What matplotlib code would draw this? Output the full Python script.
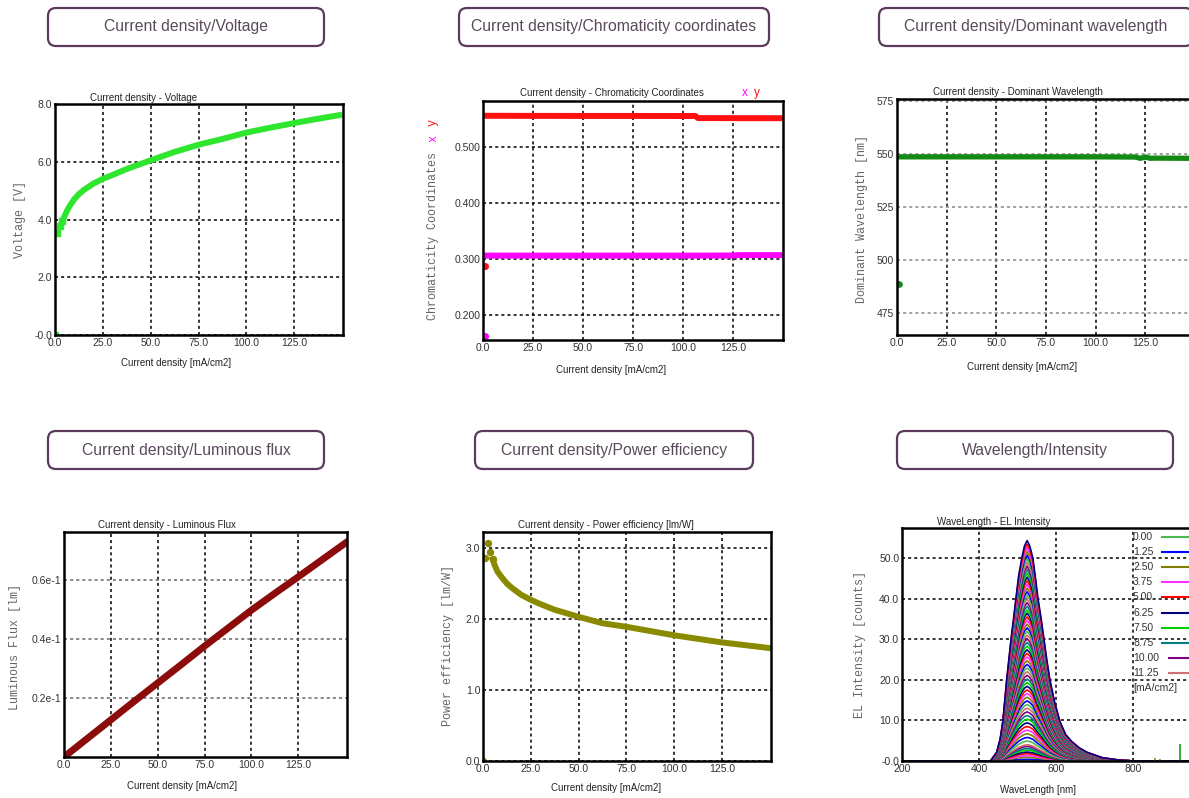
# importing library
import matplotlib
matplotlib.use('Agg')
import matplotlib.pyplot as plt
from matplotlib.patches import FancyBboxPatch
from matplotlib.transforms import IdentityTransform

# picture size in pixels
W, H = 1189, 798

# current density - voltage
volt_j = [0.0, 1.25, 2.5, 3.75, 5.0, 6.25, 7.5, 10.0, 12.5, 15.0, 17.5,
          20.0, 25.0, 30.0, 37.5, 43.75, 50.0, 62.5, 75.0, 87.5, 100.0,
          112.5, 125.0, 137.5, 150.0]
volt_v = [0.0, 3.52, 3.77, 3.94, 4.12, 4.30, 4.45, 4.70, 4.88, 5.02, 5.13,
          5.24, 5.41, 5.54, 5.75, 5.90, 6.05, 6.34, 6.59, 6.79, 7.01,
          7.18, 7.34, 7.49, 7.63]

# current density - chromaticity coordinates
cie_j = [0.75, 1.25, 25.0, 50.0, 75.0, 100.0, 106.25, 107.5, 125.0, 127.5, 150.0]
cie_x = [0.1625, 0.3058, 0.3058, 0.3058, 0.3058, 0.3058, 0.3058, 0.3058,
         0.3060, 0.3066, 0.3066]
cie_y = [0.287, 0.5556, 0.5554, 0.5553, 0.5553, 0.5552, 0.5552, 0.5515,
         0.5514, 0.5513, 0.5513]

# current density - dominant wavelength
dom_j = [1.0, 1.25, 5.0, 25.0, 50.0, 75.0, 100.0, 120.0, 122.5, 125.0,
         127.5, 130.0, 150.0]
dom_wl = [488.5, 548.7, 548.7, 548.7, 548.7, 548.7, 548.7, 548.6, 548.0,
          548.6, 548.0, 548.1, 548.0]

# current density - luminous flux
lum_j = [0.0, 12.5, 25.0, 37.5, 50.0, 62.5, 75.0, 87.5, 100.0, 112.5,
         125.0, 137.5, 150.0]
lum_f = [0.0, 0.0063, 0.0126, 0.0189, 0.0251, 0.0313, 0.0376, 0.0437,
         0.0498, 0.0555, 0.0611, 0.0668, 0.0725]

# current density - power efficiency
pe_j = [0.0, 1.25, 2.5, 3.75, 5.0, 6.25, 7.5, 10.0, 12.5, 15.0, 17.5, 20.0,
        25.0, 30.0, 37.5, 50.0, 62.5, 75.0, 87.5, 100.0, 112.5, 125.0,
        137.5, 150.0]
pe_v = [0.0, 2.86, 3.07, 2.94, 2.84, 2.75, 2.67, 2.58, 2.50, 2.44, 2.39,
        2.34, 2.27, 2.21, 2.13, 2.03, 1.94, 1.89, 1.83, 1.77, 1.72, 1.67,
        1.63, 1.59]

# EL spectra: normalised shape and peak height for each current
spec_wl = [200, 430, 446, 455, 462, 472, 483, 490, 496, 503, 511, 518, 525,
           532, 540, 546, 553, 561, 569, 576, 584, 596, 610, 625, 640, 660,
           680, 720, 760, 800, 1000]
spec_shape = [0.0, 0.0, 0.04, 0.10, 0.18, 0.37, 0.55, 0.65, 0.74, 0.84,
              0.92, 0.975, 1.0, 0.975, 0.92, 0.84, 0.74, 0.65, 0.55, 0.46,
              0.37, 0.27, 0.18, 0.12, 0.09, 0.06, 0.04, 0.015, 0.005, 0.0,
              0.0]
spec_j = [0.00, 1.25, 2.50, 3.75, 5.00, 6.25, 7.50, 8.75, 10.00, 11.25,
          13.75, 16.25, 18.75, 21.25, 23.75, 26.25, 28.75, 31.25, 33.75,
          36.25, 38.75, 41.25, 43.75, 46.25, 48.75, 51.25, 53.75, 56.25,
          58.75, 61.25, 63.75, 66.25, 68.75, 71.25, 73.75, 76.25, 78.75,
          81.25, 83.75, 86.25, 88.75, 91.25, 93.75, 96.25, 98.75, 101.25,
          103.75, 106.25, 108.75, 111.25, 113.75, 116.25, 118.75, 121.25,
          123.75, 126.25, 128.75, 131.25, 133.75, 136.25, 138.75, 141.25,
          143.75, 146.25, 148.75, 150.00]
spec_peak = [0.0, 0.4, 0.9, 1.3, 1.8, 2.2, 2.7, 3.1, 3.6, 4.0,
             4.9, 5.8, 6.7, 7.6, 8.5, 9.4, 10.3, 11.2, 12.1,
             13.0, 13.9, 14.8, 15.7, 16.6, 17.5, 18.4, 19.3, 20.2,
             21.1, 22.0, 22.9, 23.8, 24.7, 25.6, 26.5, 27.4, 28.3,
             29.2, 30.1, 31.0, 31.9, 32.8, 33.7, 34.6, 35.5, 36.4,
             37.2, 38.1, 39.0, 39.9, 40.8, 41.7, 42.6, 43.5,
             44.4, 45.3, 46.2, 47.1, 48.0, 48.9, 49.8, 50.7,
             51.6, 52.5, 53.4, 54.3]
spec_colors = ['#50b850', '#0000ff', '#808000', '#ff30ff', '#ff0000',
               '#000080', '#00d000', '#008080', '#800080', '#d07070']
spike_wl = [857, 870, 922]
spike_h = [0.8, 0.5, 4.2]

# header boxes: (centre x, centre y, width, text)
headers = [(186, 27, 276, 'Current density/Voltage'),
           (614, 27, 310, 'Current density/Chromaticity coordinates'),
           (1036, 27, 314, 'Current density/Dominant wavelength'),
           (186, 450, 276, 'Current density/Luminous flux'),
           (614, 450, 278, 'Current density/Power efficiency'),
           (1035, 450, 276, 'Wavelength/Intensity')]

plt.rcParams['font.family'] = ['Liberation Sans', 'DejaVu Sans']

fig = plt.figure(figsize=(W / 100, H / 100), dpi=100)


def px(x, y):
    """ pixel position (from top left) to figure fraction """
    return x / W, 1 - y / H


def add_axes(left, right, top, bottom):
    """ axes from pixel edges """
    return fig.add_axes([left / W, 1 - bottom / H, (right - left) / W,
                         (bottom - top) / H])


def ftext(x, y, s, **kw):
    fx, fy = px(x, y)
    kw.setdefault('fontsize', 7)
    kw.setdefault('color', '#222222')
    kw.setdefault('va', 'center')
    return fig.text(fx, fy, s, **kw)


def style(ax, xlim, ylim, xticks, xlabels, yticks, ylabels, hgrid='black'):
    ax.set_xlim(xlim)
    ax.set_ylim(ylim)
    ax.set_xticks(xticks)
    ax.set_xticklabels(xlabels)
    ax.set_yticks(yticks)
    ax.set_yticklabels(ylabels)
    ax.tick_params(length=0, labelsize=7.5, labelcolor='#333333', pad=2)
    ax.xaxis.grid(True, color='black', linestyle=(0, (2, 2)), linewidth=1.1)
    ax.yaxis.grid(True, color=hgrid, linestyle=(0, (2, 2)), linewidth=1.1)
    ax.set_axisbelow(True)
    for s in ax.spines.values():
        s.set_linewidth(1.8)


def ylab(x, y, s, color='#666666'):
    ftext(x, y, s, rotation=90, ha='center', family='Liberation Mono',
          fontsize=8.5, color=color)


cd_ticks = [0, 25, 50, 75, 100, 125]
cd_labels = ['0.0', '25.0', '50.0', '75.0', '100.0', '125.0']
xlab = 'Current density [mA/cm2]'

# header boxes
for cx, cy, w, text in headers:
    hb = 38
    box = FancyBboxPatch((cx - w / 2, H - cy - hb / 2), w, hb,
                         boxstyle='round,pad=0,rounding_size=8',
                         transform=IdentityTransform(), facecolor='white',
                         edgecolor='#5c3a5c', linewidth=1.6)
    fig.patches.append(box)
    ftext(cx, cy, text, ha='center', fontsize=11.3, color='#5a4a5c')

# voltage
ax1 = add_axes(55, 343, 104, 335)
ax1.plot(volt_j[3:], volt_v[3:], '-', color='#2ee62e', linewidth=4.3,
         solid_capstyle='butt', solid_joinstyle='round')
ax1.plot(volt_j[:4], volt_v[:4], 's', color='#2ee62e', markersize=4)
style(ax1, (0, 150.5), (0, 8.0), cd_ticks, cd_labels,
      [0, 2, 4, 6, 8], ['-0.0', '2.0', '4.0', '6.0', '8.0'])
ftext(90, 98, 'Current density - Voltage')
ftext(176, 363, xlab, ha='center')
ylab(20, 220, 'Voltage [V]')

# chromaticity
ax2 = add_axes(483, 783, 101, 340)
ax2.plot(cie_j[1:], cie_y[1:], '-', color='#ff1010', linewidth=4.3)
ax2.plot(cie_j[1:], cie_x[1:], '-', color='#ff00ff', linewidth=4.3)
ax2.plot(cie_j[:1], cie_y[:1], 'o', color='#ff1010', markersize=4)
ax2.plot(cie_j[:1], cie_x[:1], 'o', color='#ff00ff', markersize=4)
style(ax2, (0, 150), (0.155, 0.582), cd_ticks, cd_labels,
      [0.2, 0.3, 0.4, 0.5], ['0.200', '0.300', '0.400', '0.500'])
ftext(520, 93, 'Current density - Chromaticity Coordinates')
ftext(742, 93, 'x', color='#ff00ff', fontsize=8.5)
ftext(754, 93, 'y', color='#ff1010', fontsize=8.5)
ftext(611, 370, xlab, ha='center')
ylab(433, 236, 'Chromaticity Coordinates')
ylab(433, 138, 'x', color='#ff00ff')
ylab(433, 122, 'y', color='#ff1010')

# dominant wavelength
ax3 = add_axes(897, 1195, 99, 335)
ax3.plot(dom_j[1:], dom_wl[1:], '-', color='#138a13', linewidth=3.8)
ax3.plot(dom_j[:1], dom_wl[:1], 'o', color='#138a13', markersize=3.8)
style(ax3, (0, 150), (464.6, 576), cd_ticks, cd_labels,
      [475, 500, 525, 550, 575], ['475', '500', '525', '550', '575'],
      hgrid='#888888')
ftext(933, 92, 'Current density - Dominant Wavelength')
ftext(1022, 367, xlab, ha='center')
ylab(862, 219, 'Dominant Wavelength [nm]')

# luminous flux
ax4 = add_axes(64, 347, 532, 757)
ax4.plot(lum_j, lum_f, '-', color='#8c0c0c', linewidth=5)
style(ax4, (0, 151), (0, 0.0763), cd_ticks, cd_labels,
      [0.02, 0.04, 0.06], ['0.2e-1', '0.4e-1', '0.6e-1'], hgrid='#666666')
ftext(98, 525, 'Current density - Luminous Flux')
ftext(182, 786, xlab, ha='center')
ylab(15, 647, 'Luminous Flux [lm]')

# power efficiency
ax5 = add_axes(483, 771, 532, 761)
ax5.plot(pe_j[4:], pe_v[4:], '-', color='#8a8a00', linewidth=4.3,
         solid_joinstyle='round')
ax5.plot(pe_j[:5], pe_v[:5], 'o', color='#8a8a00', markersize=4.3)
style(ax5, (0, 150.6), (0, 3.225), cd_ticks, cd_labels,
      [0, 1, 2, 3], ['0.0', '1.0', '2.0', '3.0'])
ftext(518, 525, 'Current density - Power efficiency [lm/W]')
ftext(606, 788, xlab, ha='center')
ylab(448, 646, 'Power efficiency [lm/W]')

# EL spectra
ax6 = add_axes(902, 1210, 528, 761)
for i in range(len(spec_j)):
    curve = [spec_peak[i] * s for s in spec_shape]
    ax6.plot(spec_wl, curve, color=spec_colors[i % 10], linewidth=1.2)
ax6.vlines(spike_wl, 0, spike_h, colors=['#909020', '#909020', '#10a010'],
           linewidth=1.2)
style(ax6, (200, 1000), (0, 57.4), [200, 400, 600, 800],
      ['200', '400', '600', '800'],
      [0, 10, 20, 30, 40, 50], ['-0.0', '10.0', '20.0', '30.0', '40.0', '50.0'])

# legend drawn by hand: text first, short line after it
for i in range(10):
    ly = 537 + i * 15.1
    lbl = '%.2f' % spec_j[i]
    ftext(1133, ly, lbl, fontsize=7.5, color='#333333')
    start = 1162 if len(lbl) == 4 else 1169
    fig.add_artist(plt.Line2D([start / W, 1.0], [1 - ly / H, 1 - ly / H],
                              color=spec_colors[i], linewidth=1.5))
ftext(1133, 688, '[mA/cm2]', fontsize=7.5, color='#333333')

ftext(937, 522, 'WaveLength - EL Intensity')
ftext(1038, 790, 'WaveLength [nm]', ha='center')
ylab(860, 645, 'EL Intensity [counts]')

plt.savefig('out.png', dpi=100)
